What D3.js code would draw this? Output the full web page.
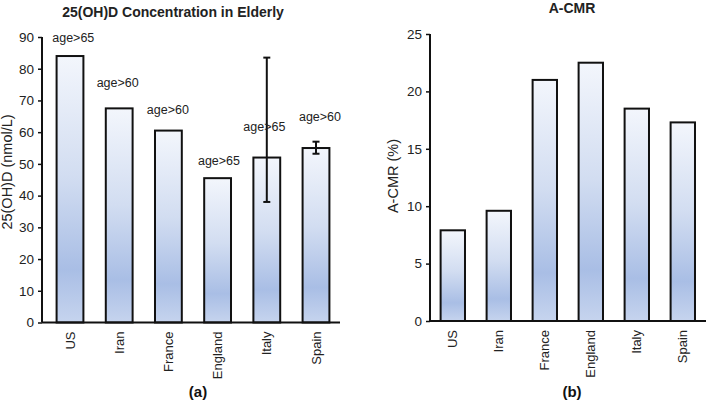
<!DOCTYPE html>
<html>
<head>
<meta charset="utf-8">
<script src="https://cdn.jsdelivr.net/npm/d3@7"></script>
<style>
  body { margin: 0; background: #fff; }
  svg { display: block; font-family: "Liberation Sans", Arial, sans-serif; }
</style>
</head>
<body>
<svg id="chart" width="708" height="404"></svg>
<script>
// ---- data ----
const countries = ["US", "Iran", "France", "England", "Italy", "Spain"];
const vitD = [84, 67.5, 60.5, 45.5, 52, 55];
const vitDErrLow = [null, null, null, null, 38, 53.2];
const vitDErrHigh = [null, null, null, null, 83.5, 57];
const ageLabels = ["age>65", "age>60", "age>60", "age>65", "age>65", "age>60"];
const ageLabelLevel = [88.4, 74.3, 65.8, 49.7, 60.4, 63.6];
const acmr = [7.9, 9.6, 21.0, 22.5, 18.5, 17.3];
const vitDTicks = [0, 10, 20, 30, 40, 50, 60, 70, 80, 90];
const acmrTicks = [0, 5, 10, 15, 20, 25];

// layout (not data)
const ageLabelDx = [3.3, -1.5, -0.5, 1.4, -2.4, 4];

const svg = d3.select("#chart");
const FONT = "Liberation Sans, Arial, sans-serif";

// gradient
const defs = svg.append("defs");
const grad = defs.append("linearGradient").attr("id", "barGrad")
  .attr("x1", 0).attr("y1", 0).attr("x2", 0).attr("y2", 1);
grad.append("stop").attr("offset", "0%").attr("stop-color", "#f3f6fc");
grad.append("stop").attr("offset", "45%").attr("stop-color", "#d2ddf1");
grad.append("stop").attr("offset", "80%").attr("stop-color", "#a9bee5");
grad.append("stop").attr("offset", "100%").attr("stop-color", "#c6d4ee");

function panel(opts) {
  const g = svg.append("g");
  const x = d3.scaleBand().domain(countries).range(opts.xRange)
    .paddingInner(opts.pad).paddingOuter(opts.pad / 2);
  const y = d3.scaleLinear().domain(opts.domain).range(opts.yRange);

  // bars
  g.selectAll("rect.bar").data(opts.values).enter().append("rect")
    .attr("class", "bar")
    .attr("x", (d, i) => x(countries[i]))
    .attr("width", x.bandwidth())
    .attr("y", d => y(d))
    .attr("height", d => y(0) - y(d))
    .attr("fill", "url(#barGrad)")
    .attr("stroke", "#111")
    .attr("stroke-width", 2);

  // y axis
  const yAxis = d3.axisLeft(y).tickValues(opts.ticks).tickSize(4).tickPadding(4);
  const ya = g.append("g").attr("transform", `translate(${opts.axisX[0]},0)`).call(yAxis);
  ya.select(".domain").attr("stroke", "#111").attr("stroke-width", 2)
    .attr("d", `M0,${opts.yRange[1]}V${opts.yRange[0]}`);
  ya.selectAll(".tick line").attr("stroke", "#111").attr("stroke-width", 1.5);
  ya.selectAll(".tick text").attr("font-size", 13.5).attr("fill", "#222")
    .attr("font-family", FONT);

  // x axis
  const xAxis = d3.axisBottom(x).tickSize(0).tickPadding(0);
  const xa = g.append("g").attr("transform", `translate(0,${y(0)})`).call(xAxis);
  xa.select(".domain").attr("stroke", "#111").attr("stroke-width", 2)
    .attr("d", `M${opts.axisX[0]},0H${opts.axisX[1]}`);
  xa.selectAll(".tick text")
    .attr("font-size", 13).attr("fill", "#222")
    .attr("font-family", FONT)
    .attr("text-anchor", "end")
    .attr("transform", "rotate(-90)")
    .attr("x", -9).attr("y", 0).attr("dy", "0.35em");

  // y label
  g.append("text")
    .attr("transform", `translate(${opts.yLabelX},${opts.yLabelY}) rotate(-90)`)
    .attr("text-anchor", "middle").attr("font-size", 14.5).attr("fill", "#222")
    .text(opts.yLabel);

  // title
  g.append("text").attr("x", opts.titleX).attr("y", opts.titleY)
    .attr("text-anchor", "middle").attr("font-size", 14).attr("font-weight", "bold")
    .attr("fill", "#222").text(opts.title);

  // panel letter
  g.append("text").attr("x", opts.letterX).attr("y", 397)
    .attr("text-anchor", "middle").attr("font-size", 15).attr("font-weight", "bold")
    .attr("fill", "#111").text(opts.letter);

  return { g, x, y };
}

const A = panel({
  xRange: [45.4, 340.6], axisX: [42, 340], yRange: [322.5, 37], domain: [0, 90], pad: 0.455,
  values: vitD, ticks: vitDTicks,
  yLabel: "25(OH)D (nmol/L)", yLabelX: 12, yLabelY: 172,
  title: "25(OH)D Concentration in Elderly", titleX: 173, titleY: 17,
  letter: "(a)", letterX: 198
});

// error bars
const errIdx = countries.map((c, i) => i).filter(i => vitDErrLow[i] != null);
const cx = i => A.x(countries[i]) + A.x.bandwidth() / 2;
const eb = A.g.selectAll("g.err").data(errIdx).enter().append("g").attr("class", "err");
eb.append("line")
  .attr("x1", cx).attr("x2", cx)
  .attr("y1", i => A.y(vitDErrLow[i])).attr("y2", i => A.y(vitDErrHigh[i]))
  .attr("stroke", "#111").attr("stroke-width", 2);
[vitDErrLow, vitDErrHigh].forEach(arr => {
  eb.append("line")
    .attr("x1", i => cx(i) - 3.5).attr("x2", i => cx(i) + 3.5)
    .attr("y1", i => A.y(arr[i])).attr("y2", i => A.y(arr[i]))
    .attr("stroke", "#111").attr("stroke-width", 2);
});

// age labels
A.g.selectAll("text.age").data(ageLabels).enter().append("text")
  .attr("class", "age")
  .attr("x", (d, i) => cx(i) + ageLabelDx[i])
  .attr("y", (d, i) => A.y(ageLabelLevel[i]))
  .attr("text-anchor", "middle").attr("font-size", 12.5).attr("fill", "#222")
  .text(d => d);

panel({
  xRange: [429.8, 705.8], axisX: [430, 706], yRange: [321, 34], domain: [0, 25], pad: 0.47,
  values: acmr, ticks: acmrTicks,
  yLabel: "A-CMR (%)", yLabelX: 398, yLabelY: 176,
  title: "A-CMR", titleX: 572, titleY: 13,
  letter: "(b)", letterX: 572
});
</script>
</body>
</html>
